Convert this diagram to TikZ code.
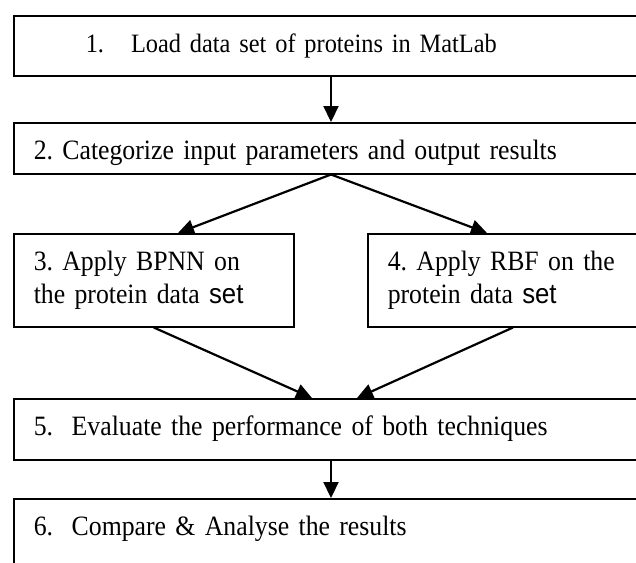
\documentclass[tikz,border=0pt]{standalone}
\usepackage{fontspec}
\setmainfont[FakeStretch=0.92]{Liberation Serif}
\setsansfont[FakeStretch=0.92]{Liberation Sans}
\usepackage{tikz}
\usetikzlibrary{shapes,arrows.meta}
\usetikzlibrary{positioning}
\frenchspacing

\begin{document}
\begin{tikzpicture}[x=1pt,y=-1pt,
  stepbox/.style={draw,line width=1.5pt,anchor=north west,align=left,
    inner xsep=20pt,inner ysep=0pt,text height=37pt,
    font=\fontsize{28}{33}\selectfont},
  flow/.style={line width=2.2pt,-{Triangle[length=16pt,width=15pt]}}]

  % page
  \clip (0,0) rectangle (636,562);

  % steps
  \node[stepbox,text width=607pt,text depth=23pt,
    font=\fontsize{26.5}{33}\selectfont] (load) at (13,15)
    {\hspace*{52pt}1.\hspace{27pt}Load data set of proteins in MatLab};
  \node[stepbox,text width=607pt,text depth=14pt] (categ) at (13,122)
    {2. Categorize input parameters and output results};

  \node[stepbox,text width=240pt,text depth=56pt] (bpnn) at (13,233)
    {3. Apply BPNN on\\the protein data {\sffamily set}};
  \node[stepbox,text width=253pt,text depth=56pt] (rbf) at (367,233)
    {4. Apply RBF on the\\protein data {\sffamily set}};

  \node[stepbox,text width=607pt,text depth=24pt] (eval) at (13,398)
    {5.\ \ Evaluate the performance of both techniques};
  \node[stepbox,text width=607pt,text depth=80pt] (comp) at (13,498)
    {6.\ \ Compare \& Analyse the results};

  % arrows
  \draw[flow] ([xshift=318pt]load.south west) -- ([xshift=318pt]categ.north west);
  \draw[flow] ([xshift=318pt]categ.south west) -- ([xshift=165pt]bpnn.north west);
  \draw[flow] ([xshift=318pt]categ.south west) -- ([xshift=120pt]rbf.north west);
  \draw[flow] (bpnn.south) -- ([xshift=299pt]eval.north west);
  \draw[flow] ([xshift=146pt]rbf.south west) -- ([xshift=344pt]eval.north west);
  \draw[flow] ([xshift=318pt]eval.south west) -- ([xshift=318pt]comp.north west);

\end{tikzpicture}
\end{document}
